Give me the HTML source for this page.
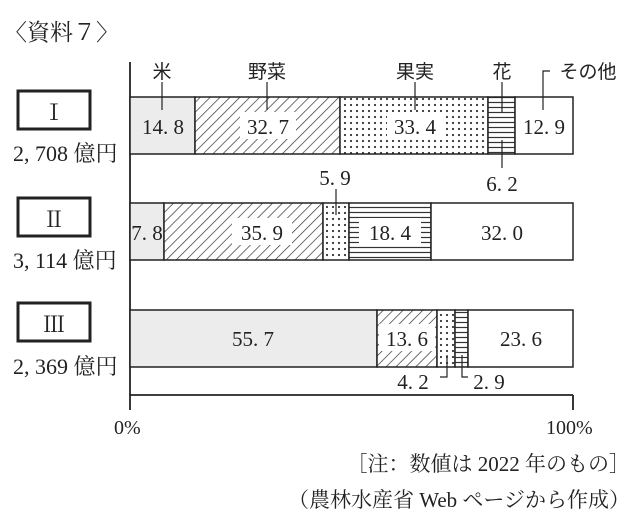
<!DOCTYPE html>
<html><head><meta charset="utf-8"><style>
body{margin:0;background:#fff}
svg{display:block}
text{font-family:"Liberation Serif","Noto Serif CJK SC",serif;fill:#222}
</style></head><body>
<svg width="640" height="528" viewBox="0 0 640 528" xmlns="http://www.w3.org/2000/svg">
<defs>
<pattern id="hatch" width="7" height="7" patternUnits="userSpaceOnUse" patternTransform="rotate(45)">
<rect width="7" height="7" fill="#fff"/><line x1="0" y1="0" x2="0" y2="7" stroke="#333" stroke-width="1.4"/></pattern>
<pattern id="dots" width="6" height="6" patternUnits="userSpaceOnUse">
<rect width="6" height="6" fill="#fff"/><circle cx="3" cy="3" r="1.1" fill="#333"/></pattern>
<pattern id="hl" width="6" height="5" patternUnits="userSpaceOnUse">
<rect width="6" height="5" fill="#fff"/><line x1="0" y1="2.5" x2="6" y2="2.5" stroke="#333" stroke-width="1.2"/></pattern>
</defs>
<text x="4" y="40" font-size="23">〈資料７〉</text>
<g stroke="#222" stroke-width="1.8" fill="none">
<line x1="130" y1="62" x2="130" y2="410"/>
<line x1="130" y1="395" x2="573" y2="395"/>
<line x1="573" y1="395" x2="573" y2="410"/>
</g>
<g stroke="#222" stroke-width="3" fill="#fff">
<rect x="18" y="91" width="72" height="38"/>
<rect x="18" y="198" width="72" height="38"/>
<rect x="18" y="303" width="72" height="38"/>
</g>
<text x="54" y="120" font-size="22" text-anchor="middle">Ⅰ</text>
<text x="54" y="227" font-size="22" text-anchor="middle">Ⅱ</text>
<text x="54" y="332" font-size="22" text-anchor="middle">Ⅲ</text>
<g font-size="22">
<text x="13" y="161">2, 708 億円</text>
<text x="13" y="268">3, 114 億円</text>
<text x="13" y="374">2, 369 億円</text>
</g>
<g stroke="#222" stroke-width="1.5">
<rect x="130" y="97" width="65" height="57" fill="#ececec"/>
<rect x="195" y="97" width="145" height="57" fill="url(#hatch)"/>
<rect x="340" y="97" width="148" height="57" fill="url(#dots)"/>
<rect x="488" y="97" width="27" height="57" fill="url(#hl)"/>
<rect x="515" y="97" width="58" height="57" fill="#fff"/>
<rect x="130" y="203" width="34" height="57" fill="#ececec"/>
<rect x="164" y="203" width="159" height="57" fill="url(#hatch)"/>
<rect x="323" y="203" width="26" height="57" fill="url(#dots)"/>
<rect x="349" y="203" width="82" height="57" fill="url(#hl)"/>
<rect x="431" y="203" width="142" height="57" fill="#fff"/>
<rect x="130" y="310" width="247" height="57" fill="#ececec"/>
<rect x="377" y="310" width="60" height="57" fill="url(#hatch)"/>
<rect x="437" y="310" width="18" height="57" fill="url(#dots)"/>
<rect x="455" y="310" width="13" height="57" fill="url(#hl)"/>
<rect x="468" y="310" width="105" height="57" fill="#fff"/>
</g>
<g fill="#fff">
<rect x="138" y="112" width="52" height="27" fill="#ececec"/>
<rect x="240" y="112" width="56" height="27"/>
<rect x="387" y="112" width="56" height="27"/>
<rect x="232" y="218" width="60" height="27"/>
<rect x="359" y="218" width="62" height="27"/>
<rect x="379" y="324" width="56" height="27"/>
</g>
<g font-size="21" text-anchor="middle">
<text x="163" y="134">14. 8</text>
<text x="268" y="134">32. 7</text>
<text x="415" y="134">33. 4</text>
<text x="544" y="134">12. 9</text>
<text x="147" y="240">7. 8</text>
<text x="262" y="240">35. 9</text>
<text x="390" y="240">18. 4</text>
<text x="502" y="240">32. 0</text>
<text x="253" y="346">55. 7</text>
<text x="407" y="346">13. 6</text>
<text x="521" y="346">23. 6</text>
<text x="335" y="185">5. 9</text>
<text x="502" y="191">6. 2</text>
<text x="413" y="389">4. 2</text>
<text x="489" y="389">2. 9</text>
</g>
<g font-size="19" text-anchor="middle">
<text x="162" y="78" style="font-family:'Noto Sans CJK JP',sans-serif">米</text>
<text x="267" y="78" style="font-family:'Noto Sans CJK JP',sans-serif">野菜</text>
<text x="415" y="78" style="font-family:'Noto Sans CJK JP',sans-serif">果実</text>
<text x="502" y="78" style="font-family:'Noto Sans CJK JP',sans-serif">花</text>
<text x="588" y="78" style="font-family:'Noto Sans CJK JP',sans-serif">その他</text>
</g>
<g stroke="#222" stroke-width="1.2" fill="none">
<line x1="162" y1="82" x2="162" y2="110"/>
<line x1="267" y1="82" x2="267" y2="110"/>
<line x1="415" y1="82" x2="415" y2="110"/>
<line x1="502" y1="82" x2="502" y2="112"/>
<line x1="502" y1="140" x2="502" y2="168"/>
<polyline points="550,71 543,71 543,110"/>
<line x1="336" y1="189" x2="336" y2="215"/>
<polyline points="447,355 447,377 440,377"/>
<polyline points="462,355 462,377 468,377"/>
</g>
<g font-size="20">
<text x="114" y="434">0%</text>
<text x="546" y="434">100%</text>
</g>
<g font-size="21" text-anchor="end">
<text x="630" y="471">［注：数値は 2022 年のもの］</text>
<text x="630" y="507">（農林水産省 Web ページから作成）</text>
</g>
</svg>
</body></html>
